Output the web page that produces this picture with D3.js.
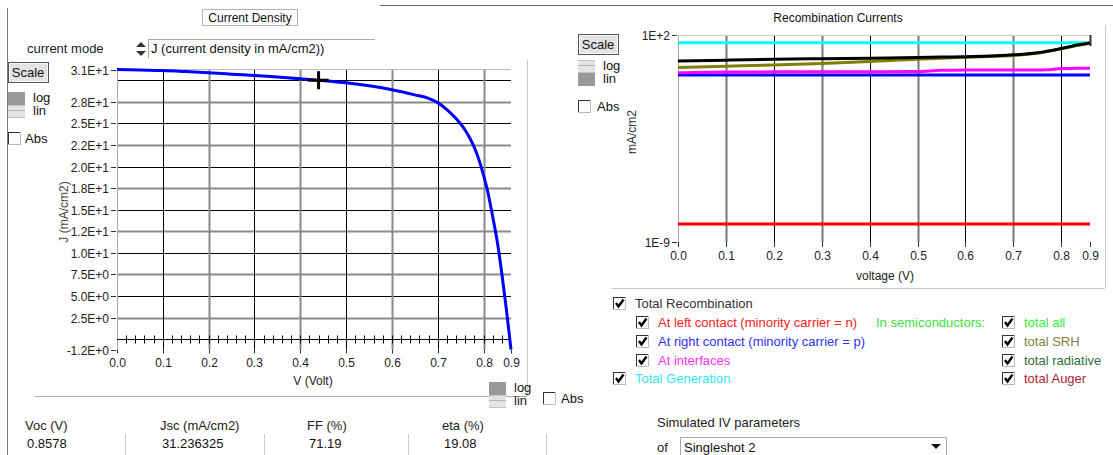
<!DOCTYPE html>
<html>
<head>
<meta charset="utf-8">
<script src="https://cdn.jsdelivr.net/npm/d3@7"></script>
<style>
  body { margin: 0; background: #fff; }
  svg { display: block; font-family: "Liberation Sans", Arial, sans-serif; }
</style>
</head>
<body>
<div id="chart"></div>
<script>
// ---- J-V curve (left panel) ----
const voltage = [0, 0.05, 0.1, 0.15, 0.2, 0.25, 0.3, 0.35, 0.4, 0.44, 0.5, 0.55, 0.6, 0.65, 0.68, 0.7, 0.72, 0.74, 0.76, 0.77, 0.78, 0.79, 0.8, 0.81, 0.82, 0.83, 0.84, 0.85, 0.855, 0.86]
const currentDensity = [31.24, 31.18, 31.12, 31.0, 30.86, 30.7, 30.54, 30.38, 30.18, 30.0, 29.7, 29.35, 28.9, 28.3, 27.9, 27.4, 26.6, 25.55, 24.2, 23.3, 22.2, 20.8, 19.0, 16.9, 14.2, 11.3, 7.6, 3.4, 1.1, -1.2]
const cursorPoint = [0.44, 30.0]
const jTickValues = [27.5, 25, 22.5, 20, 17.5, 15, 12.5, 10, 7.5, 5, 2.5]
const jTickLabels = ["2.8E+1", "2.5E+1", "2.2E+1", "2.0E+1", "1.8E+1", "1.5E+1", "1.2E+1", "1.0E+1", "7.5E+0", "5.0E+0", "2.5E+0"]
const jMin = -1.2, jMax = 31.24
const jMinLabel = "-1.2E+0", jMaxLabel = "3.1E+1"

// ---- recombination currents (right panel), mA/cm2 ----
const recVoltage = [0, 0.1, 0.2, 0.3, 0.4, 0.5, 0.55, 0.6, 0.65, 0.7, 0.73, 0.76, 0.78, 0.8, 0.82, 0.84, 0.86]
const totalGeneration = [38.9, 38.9, 38.9, 38.9, 38.9, 38.9, 38.9, 38.9, 38.9, 38.9, 38.9, 38.9, 38.9, 38.9, 38.9, 38.9, 38.9]
const leftContact = [9.1e-9, 9.1e-9, 9.1e-9, 9.1e-9, 9.1e-9, 9.1e-9, 9.1e-9, 9.1e-9, 9.1e-9, 9.1e-9, 9.1e-9, 9.1e-9, 9.1e-9, 9.1e-9, 9.1e-9, 9.1e-9, 9.1e-9]
const rightContact = [0.74, 0.74, 0.74, 0.74, 0.74, 0.74, 0.74, 0.74, 0.74, 0.74, 0.74, 0.74, 0.74, 0.74, 0.74, 0.74, 0.74]
const interfaces = [0.98, 1.08, 1.1, 1.11, 1.12, 1.14, 1.33, 1.36, 1.37, 1.38, 1.39, 1.4, 1.45, 1.65, 1.68, 1.7, 1.72]
const totalSRH = [1.9, 2.2, 2.55, 3.1, 3.9, 5.2, 5.9, 6.5, 7.1, 8.2, 9.4, 11.8, 14.4, 18.6, 23.8, 30.4, 37.4]
const totalRecombination = [4.1, 4.6, 5.1, 5.5, 5.9, 6.3, 6.7, 7.0, 7.6, 8.8, 10.0, 12.3, 15.0, 19.2, 24.5, 31.0, 38.0]
const recTickLabels = ["1E+2", "1E-9"]

const voltageTicks = [0, 0.1, 0.2, 0.3, 0.4, 0.5, 0.6, 0.7, 0.8]
const voltageTickLabels = ["0.0", "0.1", "0.2", "0.3", "0.4", "0.5", "0.6", "0.7", "0.8"]
const vMax = 0.86, vMaxLabel = "0.9"

// IV parameters
const paramNames = ["Voc (V)", "Jsc (mA/cm2)", "FF  (%)", "eta (%)"]
const paramValues = ["0.8578", "31.236325", "71.19", "19.08"]

const width = 1113, height = 455
const svg = d3.select("#chart").append("svg")
    .attr("width", width).attr("height", height)

const txt = (x, y, s, opts = {}) => svg.append("text")
    .attr("x", x).attr("y", y)
    .attr("font-size", opts.size || 12)
    .attr("fill", opts.color || "#222")
    .attr("text-anchor", opts.anchor || "start")
    .text(s)

const line = (x1, y1, x2, y2, color, w = 1) => svg.append("line")
    .attr("x1", x1).attr("y1", y1).attr("x2", x2).attr("y2", y2)
    .attr("stroke", color).attr("stroke-width", w)

function checkbox(x, y, checked) {
    svg.append("rect").attr("x", x + 0.5).attr("y", y + 0.5).attr("width", 12).attr("height", 12)
        .attr("fill", "#fff").attr("stroke", "#bbb")
    line(x, y + 0.5, x + 12, y + 0.5, "#333")
    line(x + 0.5, y, x + 0.5, y + 12, "#333")
    if (checked) {
        svg.append("path").attr("d", `M${x + 3},${y + 6} L${x + 5.5},${y + 9.5} L${x + 10.5},${y + 2.5}`)
            .attr("fill", "none").attr("stroke", "#000").attr("stroke-width", 2.4)
    }
}

function scaleButton(x, y) {
    svg.append("rect").attr("x", x + 0.5).attr("y", y + 0.5).attr("width", 40).attr("height", 20)
        .attr("fill", "#e3e3e3").attr("stroke", "#555")
    svg.append("rect").attr("x", x + 1.5).attr("y", y + 1.5).attr("width", 38).attr("height", 18)
        .attr("fill", "none").attr("stroke", "#f8f8f8")
    txt(x + 20, y + 15, "Scale", {size: 13, anchor: "middle", color: "#111"})
}

function logLin(x, y, logSelected) {
    const top = logSelected ? "#999" : "#e4e4e4"
    const bot = logSelected ? "#e4e4e4" : "#999"
    svg.append("rect").attr("x", x).attr("y", y).attr("width", 17).attr("height", 13).attr("fill", top)
    svg.append("rect").attr("x", x).attr("y", y + 13).attr("width", 17).attr("height", 13).attr("fill", bot)
    const light = logSelected ? y + 13 : y
    line(x, light + 0.5, x + 17, light + 0.5, "#c4c4c4")
    line(x, light + 5.5, x + 17, light + 5.5, "#b4b4b4")
    line(x, light + 12.5, x + 17, light + 12.5, "#c4c4c4")
    txt(x + 25, y + 10, "log", {size: 13, color: "#111"})
    txt(x + 25, y + 23, "lin", {size: 13, color: "#111"})
}

// ---------- frame lines ----------
line(380, 5.5, width, 5.5, "#5b6670")
line(7.5, 8, 7.5, height, "#777")
line(527.5, 60, 527.5, 396, "#c8c8c8")
line(35, 396.5, 527, 396.5, "#aaa")
line(612, 288.5, 1105, 288.5, "#c8c8c8")
line(1105.5, 25, 1105.5, 288, "#c8c8c8")

// ---------- left panel header ----------
svg.append("rect").attr("x", 202.5).attr("y", 9.5).attr("width", 95).attr("height", 16)
    .attr("fill", "none").attr("stroke", "#666").attr("stroke-dasharray", "1,1")
txt(250, 22, "Current Density", {anchor: "middle", color: "#111"})
txt(27, 53, "current mode", {size: 13, color: "#222"})
// spinner
svg.append("path").attr("d", "M136,47 L141,42 L146,47 Z").attr("fill", "#333")
svg.append("path").attr("d", "M136,51 L141,56 L146,51 Z").attr("fill", "#333")
line(148, 39.5, 375, 39.5, "#aaa")
line(148.5, 39, 148.5, 58, "#aaa")
txt(151, 53, "J (current density in mA/cm2))", {size: 13, color: "#111"})

scaleButton(8, 62)
logLin(8, 92, true)
checkbox(8, 132, false)
txt(25, 143, "Abs", {size: 13, color: "#111"})

// ---------- left plot ----------
const xL = d3.scaleLinear().domain([0, vMax]).range([117, 511])
const yL = d3.scaleLinear().domain([jMin, jMax]).range([349.5, 69.5])

const gL = svg.append("g")
line(117, yL(jMax), 511, yL(jMax), "#bbb")
// horizontal grid
gL.selectAll(".hgrid").data(jTickValues.concat([30])).enter().append("line")
    .attr("x1", xL(0)).attr("x2", xL(vMax))
    .attr("y1", d => Math.round(yL(d)) + 0.5).attr("y2", d => Math.round(yL(d)) + 0.5)
    .attr("stroke", d => (d % 5 === 0) ? "#000" : "#8a8a8a")
    .attr("stroke-width", d => (d % 5 === 0) ? 1 : 2)
// vertical grid
gL.selectAll(".vgrid").data(voltageTicks.slice(1)).enter().append("line")
    .attr("x1", d => Math.round(xL(d)) + 0.5).attr("x2", d => Math.round(xL(d)) + 0.5)
    .attr("y1", yL(jMax)).attr("y2", yL(jMin))
    .attr("stroke", (d, i) => i % 2 === 0 ? "#000" : "#8a8a8a")
    .attr("stroke-width", (d, i) => i % 2 === 0 ? 1 : 2)
line(117.5, yL(jMax), 117.5, yL(jMin), "#aaa")

// zero line with minor ticks
const y0 = Math.round(yL(0)) + 0.5
line(xL(0), y0, xL(vMax), y0, "#000")
gL.selectAll(".minor").data(d3.range(0, vMax, 0.02)).enter().append("line")
    .attr("x1", d => Math.round(xL(d)) + 0.5).attr("x2", d => Math.round(xL(d)) + 0.5)
    .attr("y1", y0 - 4).attr("y2", y0 + 4).attr("stroke", "#000")

// y ticks & labels
const yTicks = [[jMax, jMaxLabel]].concat(jTickValues.map((v, i) => [v, jTickLabels[i]])).concat([[jMin, jMinLabel]])
yTicks.forEach(([v, s]) => {
    const y = Math.round(yL(v)) + 0.5
    line(111, y, 116, y, "#333")
    txt(109, y + 4, s, {color: "#222", anchor: "end"})
})
// x ticks & labels
voltageTicks.concat([vMax]).forEach((v, i) => {
    const x = Math.round(xL(v)) + 0.5
    line(x, yL(jMin), x, yL(jMin) + 4, "#333")
    txt(x, 367, i < voltageTicks.length ? voltageTickLabels[i] : vMaxLabel, {anchor: "middle", color: "#222"})
})
txt(313, 385, "V (Volt)", {anchor: "middle", color: "#222"})
txt(0, 0, "J (mA/cm2)", {anchor: "middle", color: "#444"})
    .attr("transform", "translate(68,212) rotate(-90)")

const jvLine = d3.line().x(d => xL(d[0])).y(d => yL(d[1])).curve(d3.curveMonotoneX)
svg.append("path").datum(voltage.map((v, i) => [v, currentDensity[i]]))
    .attr("d", jvLine).attr("fill", "none").attr("stroke", "#0000ff").attr("stroke-width", 3)

// cursor cross
const cx = xL(cursorPoint[0]), cy = yL(cursorPoint[1])
line(cx, cy - 9, cx, cy + 9, "#000", 3)
line(cx - 11, cy, cx + 10, cy, "#000", 3)

// bottom widgets of left panel
logLin(489, 382, true)
checkbox(543, 392, false)
txt(561, 403, "Abs", {size: 13, color: "#111"})

// ---------- IV parameters ----------
const paramX = [25, 160, 307, 442]
const boxRight = [125, 264, 408, 546]
paramNames.forEach((n, i) => {
    txt(paramX[i], 430, n, {size: 13, color: "#222"})
    txt(paramX[i] + 2, 448, paramValues[i], {size: 13, color: "#111"})
    line(boxRight[i] + 0.5, 434, boxRight[i] + 0.5, 455, "#ccc")
})

txt(657, 427, "Simulated IV parameters", {size: 13, color: "#222"})
txt(657, 452, "of", {size: 13, color: "#222"})
line(680, 437.5, 947, 437.5, "#aaa")
line(680.5, 437, 680.5, 455, "#aaa")
line(946.5, 437, 946.5, 455, "#aaa")
txt(684, 452, "Singleshot 2", {size: 13, color: "#111"})
svg.append("path").attr("d", "M931,444 L941,444 L936,449 Z").attr("fill", "#111")

// ---------- right panel ----------
txt(838, 22, "Recombination Currents", {anchor: "middle", color: "#111"})
scaleButton(578, 34)
logLin(578, 60, false)
checkbox(578, 100, false)
txt(597, 111, "Abs", {size: 13, color: "#111"})
txt(0, 0, "mA/cm2", {anchor: "middle", color: "#333"})
    .attr("transform", "translate(636,132) rotate(-90)")

const xR = d3.scaleLinear().domain([0, vMax]).range([678, 1090])
const yR = d3.scaleLog().domain([1e-9, 1e2]).range([242, 35])

const gR = svg.append("g")
line(678, 35.5, 1090, 35.5, "#ccc")
gR.selectAll(".vgridR").data(voltageTicks.slice(1)).enter().append("line")
    .attr("x1", d => Math.round(xR(d)) + 0.5).attr("x2", d => Math.round(xR(d)) + 0.5)
    .attr("y1", yR(1e2)).attr("y2", yR(1e-9))
    .attr("stroke", (d, i) => i % 2 === 0 ? "#777" : "#000")
    .attr("stroke-width", (d, i) => i % 2 === 0 ? 2 : 1)
line(678.5, yR(1e2), 678.5, yR(1e-9), "#aaa")
line(Math.round(xR(vMax)) + 0.5, 35, Math.round(xR(vMax)) + 0.5, 46, "#333", 2)

;[1e2, 1e-9].forEach((v, i) => {
    const y = Math.round(yR(v)) + 0.5
    line(672, y, 677, y, "#333")
    txt(670, y + 4, recTickLabels[i], {anchor: "end", color: "#222"})
})
voltageTicks.concat([vMax]).forEach((v, i) => {
    const x = Math.round(xR(v)) + 0.5
    line(x, 242, x, 247, "#333")
    txt(x, 260, i < voltageTicks.length ? voltageTickLabels[i] : vMaxLabel, {anchor: "middle", color: "#222"})
})
txt(885, 280, "voltage (V)", {anchor: "middle", color: "#222"})

const recLine = d3.line().x(d => xR(d[0])).y(d => yR(d[1])).curve(d3.curveMonotoneX)
const recSeries = [
    {values: totalGeneration, color: "#00ffff"},
    {values: leftContact, color: "#ff0000"},
    {values: rightContact, color: "#0000ff"},
    {values: interfaces, color: "#ff00ff"},
    {values: totalSRH, color: "#808000"},
    {values: totalRecombination, color: "#000000"}
]
recSeries.forEach(s => {
    svg.append("path").datum(recVoltage.map((v, i) => [v, s.values[i]]))
        .attr("d", recLine).attr("fill", "none").attr("stroke", s.color).attr("stroke-width", 3)
})

// ---------- legend ----------
const legendLeft = [
    {x: 613, y: 297, label: "Total Recombination", color: "#333"},
    {x: 636, y: 316, label: "At left contact (minority carrier = n)", color: "#ff2020"},
    {x: 636, y: 335, label: "At right contact (minority carrier = p)", color: "#3030ff"},
    {x: 636, y: 354, label: "At interfaces", color: "#ff30ff"},
    {x: 613, y: 372, label: "Total Generation", color: "#30e8f0"}
]
legendLeft.forEach(d => {
    checkbox(d.x, d.y, true)
    txt(d.x + 22, d.y + 11, d.label, {size: 13, color: d.color})
})
txt(876, 327, "In semiconductors:", {size: 13, color: "#40e040"})
const legendRight = [
    {y: 316, label: "total all", color: "#33ee33"},
    {y: 335, label: "total SRH", color: "#7f7f40"},
    {y: 354, label: "total radiative", color: "#2f6f3f"},
    {y: 372, label: "total Auger", color: "#b01c30"}
]
legendRight.forEach(d => {
    checkbox(1002, d.y, true)
    txt(1024, d.y + 11, d.label, {size: 13, color: d.color})
})
</script>
</body>
</html>
